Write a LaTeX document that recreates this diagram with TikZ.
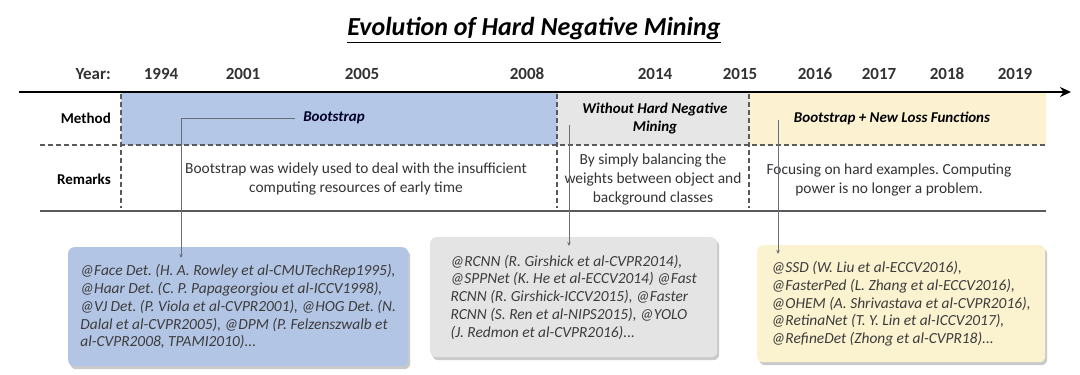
\documentclass[tikz,border=0pt]{standalone}
\usepackage{fontspec}
\setmainfont{Carlito}
\usetikzlibrary{arrows.meta,shadows}
\definecolor{mblue}{HTML}{B4C7E7}
\definecolor{mgray}{HTML}{E6E6E6}
\definecolor{myellow}{HTML}{FCF2D2}
\definecolor{bblue}{HTML}{B3C5E5}
\definecolor{bgray}{HTML}{E4E4E4}
\definecolor{byellow}{HTML}{FBF2CF}
\definecolor{txt}{HTML}{333333}
\definecolor{btxt}{HTML}{3C3C3C}
\definecolor{conncol}{HTML}{66707A}
\definecolor{linecol}{HTML}{5A5A5A}
\frenchspacing
\begin{document}
\begin{tikzpicture}[x=1pt,y=-1pt,
  year/.style={font=\fontsize{17}{20}\selectfont\bfseries, text=txt, inner sep=0pt},
  rowlab/.style={font=\fontsize{15}{18}\selectfont\bfseries, text=black, inner sep=0pt, anchor=east},
  meth/.style={font=\fontsize{15}{18}\selectfont\bfseries\itshape, text=black, align=center, inner sep=0pt},
  rem/.style={font=\fontsize{15.4}{19}\selectfont, text=txt, align=center, inner sep=0pt},
  refbox/.style={draw=none, rounded corners=6pt, align=left, anchor=north west,
     font=\fontsize{15.4}{17.8}\selectfont\itshape, text=btxt, inner xsep=4pt, inner ysep=0pt,
     drop shadow={shadow xshift=2pt, shadow yshift=-3pt, opacity=0.35, fill=black!60}},
  conn/.style={draw=conncol, line width=0.8pt, -{Stealth[length=4pt,width=3.5pt]}},
  dashln/.style={draw=linecol, line width=1.1pt, dash pattern=on 5pt off 3pt}
]
\useasboundingbox (0,0) rectangle (1080,375);

% title
\node[font=\fontsize{26}{30}\selectfont\bfseries\itshape, text=black, inner sep=0pt] (title) at (534,30) {\underline{Evolution of Hard Negative Mining}};

% fills
\fill[mblue] (121,93) rectangle (557,145);
\fill[mgray] (557,93) rectangle (749,145);
\fill[myellow] (749,93) rectangle (1046,145);

% axis
\coordinate (axs) at (19,92);
\coordinate (axe) at (1071,92);
\draw[line width=2.6pt, -{Stealth[length=11pt,width=10pt]}] (axs) -- (axe);

% grid lines
\coordinate (hl1) at (40,145); \coordinate (hr1) at (1046,145);
\draw[dashln] (hl1) -- (hr1);
\coordinate (hl2) at (40,211); \coordinate (hr2) at (1046,211);
\draw[draw=linecol, line width=1.6pt] (hl2) -- (hr2);
\coordinate (v1t) at (121,94); \coordinate (v1b) at (121,208);
\coordinate (v2t) at (557,94); \coordinate (v2b) at (557,208);
\coordinate (v3t) at (749,94); \coordinate (v3b) at (749,208);
\draw[dashln] (v1t) -- (v1b);
\draw[dashln] (v2t) -- (v2b);
\draw[dashln] (v3t) -- (v3b);

% years
\node[year, anchor=east] (ylab) at (111,74) {Year:};
\node[year] (y1994) at (161,74) {1994};
\node[year] (y2001) at (243,74) {2001};
\node[year] (y2005) at (362,74) {2005};
\node[year] (y2008) at (527,74) {2008};
\node[year] (y2014) at (655,74) {2014};
\node[year] (y2015) at (740,74) {2015};
\node[year] (y2016) at (815,74) {2016};
\node[year] (y2017) at (879,74) {2017};
\node[year] (y2018) at (947,74) {2018};
\node[year] (y2019) at (1015,74) {2019};

% row labels
\node[rowlab] (method) at (111,118) {Method};
\node[rowlab] (remarks) at (111,179) {Remarks};

% method cells
\node[meth, text=black!85!blue] (boot) at (334,118) {Bootstrap};
\node[meth] (without) at (655,118) {Without Hard Negative\\Mining};
\node[meth] (bnew) at (892,118) {Bootstrap + New Loss Functions};

% remarks
\node[rem] (r1) at (356,179) {Bootstrap was widely used to deal with the insufficient\\computing resources of early time};
\node[rem] (r2) at (653,179) {By simply balancing the\\weights between object and\\background classes};
\node[rem] (r3) at (889,180) {Focusing on hard examples. Computing\\power is no longer a problem.};

% reference boxes
\node[refbox, fill=bblue, minimum width=340pt, minimum height=119pt] (box1) at (68,247)
 {@Face Det. (H. A. Rowley et al-CMUTechRep1995),\\
 @Haar Det. (C. P. Papageorgiou et al-ICCV1998),\\
 @VJ Det. (P. Viola et al-CVPR2001), @HOG Det. (N.\\
 Dalal et al-CVPR2005), @DPM (P. Felzenszwalb et\\
 al-CVPR2008, TPAMI2010)...};
\node[refbox, fill=bgray, minimum width=287pt, minimum height=120pt] (box2) at (430,237)
 {@RCNN (R. Girshick et al-CVPR2014),\\
 @SPPNet (K. He et al-ECCV2014) @Fast\\
 RCNN (R. Girshick-ICCV2015), @Faster\\
 RCNN (S. Ren et al-NIPS2015), @YOLO\\
 (J. Redmon et al-CVPR2016)...};
\node[refbox, fill=byellow, minimum width=288pt, minimum height=117pt] (box3) at (757,245)
 {@SSD (W. Liu et al-ECCV2016),\\
 @FasterPed (L. Zhang et al-ECCV2016),\\
 @OHEM (A. Shrivastava et al-CVPR2016),\\
 @RetinaNet (T. Y. Lin et al-ICCV2017),\\
 @RefineDet (Zhong et al-CVPR18)...};

% connectors
\coordinate (c1e) at (181,258);
\draw[conn] ([xshift=-8pt]boot.west) -| (c1e);
\coordinate (c2s) at (569,125); \coordinate (c2e) at (569,246);
\draw[conn] (c2s) -- (c2e);
\coordinate (c3s) at (778,120); \coordinate (c3e) at (778,254);
\draw[conn] (c3s) -- (c3e);
\end{tikzpicture}
\end{document}
